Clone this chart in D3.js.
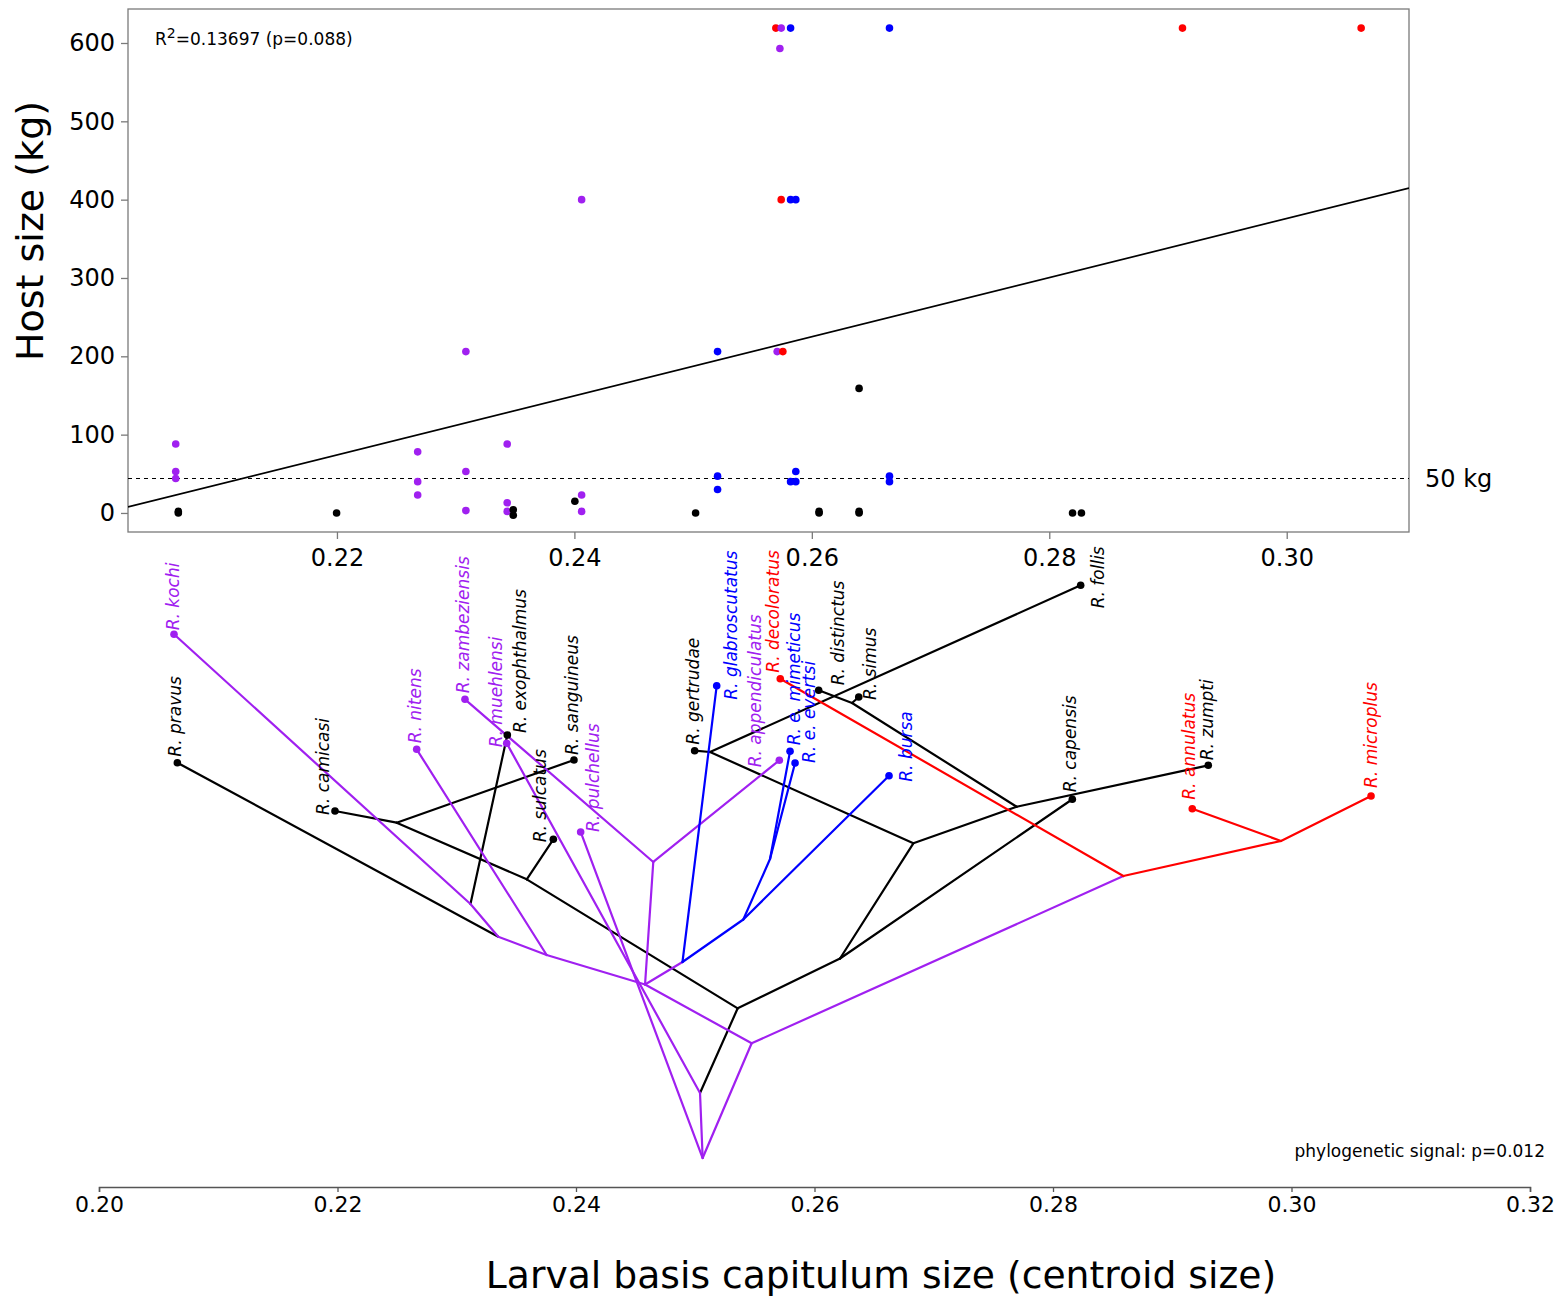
<!DOCTYPE html>
<html><head><meta charset="utf-8">
<script src="https://cdn.jsdelivr.net/npm/d3@7"></script>
<style>
body{margin:0;background:#fff}
text{font-family:"DejaVu Sans",Verdana,sans-serif}
</style>
</head><body>
<svg id="chart" width="1561" height="1296"></svg>
<script>
// ---------------- DATA ----------------
const groupColor = {black:"#000000", purple:"#A020F0", blue:"#0000FF", red:"#FF0000"};

// Top panel: larval basis capitulum size vs host size
const pointSize = [0.25697,0.25742,0.20642,0.20642,0.20642,0.22680,0.22680,0.22680,0.23086,0.23086,0.23086,0.23434,0.23434,0.23434,0.24061,0.24061,0.24061,0.25731,0.25708,0.25756,0.25742,0.29122,0.30627,
  0.25821,0.26654,0.25821,0.25865,0.25206,0.25206,0.25206,0.25865,0.25821,0.25865,0.26654,0.26654,
  0.20664,0.20664,0.21997,0.23485,0.23485,0.24004,0.25021,0.26061,0.26061,0.26398,0.26398,0.26398,0.28196,0.28271];
const hostSize = [619,619,88,53,44,78,40,23,206,53,3,88,13,2,400,23,2,593,206,206,400,619,619,
  619,619,400,400,206,47,30,53,40,40,47,40,
  2,0,0,4,-3,15,0,2,0,159,2,0,0,0];
const pointGroup = ["red","purple","purple","purple","purple","purple","purple","purple","purple","purple","purple","purple","purple","purple","purple","purple","purple","purple","purple","red","red","red","red",
  "blue","blue","blue","blue","blue","blue","blue","blue","blue","blue","blue","blue",
  "black","black","black","black","black","black","black","black","black","black","black","black","black","black"];
const yTicks = [0,100,200,300,400,500,600];
const xTicksTop = [0.22,0.24,0.26,0.28,0.30];
const xTicksBottom = [0.20,0.22,0.24,0.26,0.28,0.30,0.32];
const thresholdKg = 44;            // dashed "50 kg" line
const fitIntercept = -756, fitSlope = 3773;   // regression line
const r2Text = "=0.13697 (p=0.088)";
const signalText = "phylogenetic signal: p=0.012";

// Bottom panel: phylogeny projected on trait axis
const tipNames = ["R. kochi","R. pravus","R. camicasi","R. nitens","R. zambeziensis","R. exophthalmus","R. muehlensi","R. sanguineus","R. sulcatus","R. pulchellus","R. gertrudae","R. glabroscutatus","R. decoloratus","R. appendiculatus","R. e. mimeticus","R. e. evertsi","R. distinctus","R. simus","R. bursa","R. follis","R. capensis","R. zumpti","R. annulatus","R. microplus"];
const tipX = [0.20629,0.20657,0.21979,0.22664,0.23069,0.23424,0.23419,0.23983,0.23810,0.24039,0.24995,0.25180,0.25713,0.25705,0.25795,0.25837,0.26035,0.26371,0.26625,0.28232,0.28162,0.29302,0.29168,0.30667];
const tipH = [92.12,70.72,62.67,72.95,81.28,75.33,73.95,71.17,57.95,59.17,72.72,83.55,84.72,71.12,72.62,70.67,82.78,81.67,68.55,100.28,64.62,70.28,63.05,65.17];
const tipGroup = ["purple","black","black","purple","purple","black","purple","black","black","purple","black","blue","red","purple","blue","blue","black","black","blue","black","black","black","red","red"];
const nodeIds = ["root","P6","P5","Q1","S1","S2","Q2","G1","G3","G2","D1","P3","R1","P2","P4","B1","P1","K","B2","B3","R2"];
const nodeX = [0.25062,0.25040,0.25473,0.25356,0.23587,0.22496,0.26214,0.26829,0.25124,0.27695,0.26315,0.24579,0.28590,0.23754,0.24648,0.24893,0.23348,0.23115,0.25403,0.25627,0.29912];
const nodeH = [4.83,15.67,23.95,29.78,51.28,60.72,38.08,57.28,72.5,63.38,80.67,33.75,51.83,38.67,54.17,37.5,41.72,47.17,44.58,54.67,57.67];
const edgeFrom = ["root","root","root","P6","P6","Q1","Q1","S1","S1","S2","S2","Q2","Q2","G1","G1","G3","G3","G2","G2","D1","D1","P5","P5","P3","P3","P3","P2","P2","P1","P1","K","K","P4","P4","B1","B1","B2","B2","B3","B3","R1","R1","R2","R2"];
const edgeTo = ["R. pulchellus","P6","P5","R. muehlensi","Q1","S1","Q2","R. sulcatus","S2","R. camicasi","R. sanguineus","G1","R. capensis","G3","G2","R. gertrudae","R. follis","D1","R. zumpti","R. distinctus","R. simus","P3","R1","P2","P4","B1","P1","R. nitens","R. pravus","K","R. kochi","R. exophthalmus","R. zambeziensis","R. appendiculatus","R. glabroscutatus","B2","B3","R. bursa","R. e. mimeticus","R. e. evertsi","R. decoloratus","R2","R. annulatus","R. microplus"];
const edgeGroup = ["purple","purple","purple","purple","black","black","black","black","black","black","black","black","black","black","black","black","black","black","black","black","black","purple","purple","purple","purple","purple","purple","purple","black","purple","purple","black","purple","purple","blue","blue","blue","blue","blue","blue","red","red","red","red"];

// label placement (layout, px offsets from tip)
const labelDx = [-1.5,-2,-11.5,-2,-2,12.7,-11,-1.5,-13,12,-2,14,-7,-24,3.5,13.5,19,11,16.5,17,-2,-1,-3,0];
const labelDy = [-4,-6,4,-6,-6,-2,4,-5,3,0,-6,14,-6,7,-6,0,-5,3,6,23,-7,-5,-9,-8];

// ---------------- DRAW ----------------
const svg = d3.select("#chart");
const box = {l:128, r:1409, t:9, b:532};
const xTop = d3.scaleLinear().domain([0.2024,0.3103]).range([box.l, box.r]);
const yTop = d3.scaleLinear().domain([-24.3,643.4]).range([box.b, box.t]);

const gTop = svg.append("g");
gTop.append("defs").append("clipPath").attr("id","clipTop")
  .append("rect").attr("x",box.l).attr("y",box.t).attr("width",box.r-box.l).attr("height",box.b-box.t);

// axes
const yAxis = d3.axisLeft(yTop).tickValues(yTicks).tickSize(7).tickPadding(6).tickFormat(d3.format("d"));
const gy = gTop.append("g").attr("transform",`translate(${box.l},0)`).call(yAxis);
const xAxisTop = d3.axisBottom(xTop).tickValues(xTicksTop).tickSize(7).tickPadding(10).tickFormat(d3.format(".2f"));
const gx = gTop.append("g").attr("transform",`translate(0,${box.b})`).call(xAxisTop);
[gy,gx].forEach(g=>{
  g.select(".domain").remove();
  g.selectAll(".tick line").attr("stroke","#7a7a7a").attr("stroke-width",1.3);
  g.selectAll(".tick text").attr("font-size",24).attr("fill","#000").attr("font-family","DejaVu Sans, Verdana, sans-serif");
});

// box
gTop.append("rect").attr("x",box.l).attr("y",box.t).attr("width",box.r-box.l).attr("height",box.b-box.t)
  .attr("fill","none").attr("stroke","#7a7a7a").attr("stroke-width",1.3);

const plot = gTop.append("g").attr("clip-path","url(#clipTop)");
// threshold dashed line
plot.append("line").attr("x1",box.l).attr("x2",box.r).attr("y1",yTop(thresholdKg)).attr("y2",yTop(thresholdKg))
  .attr("stroke","#000").attr("stroke-width",1.2).attr("stroke-dasharray","4,4");
// regression line
const xd = xTop.domain();
plot.append("line").attr("x1",xTop(xd[0])).attr("y1",yTop(fitIntercept+fitSlope*xd[0]))
  .attr("x2",xTop(xd[1])).attr("y2",yTop(fitIntercept+fitSlope*xd[1]))
  .attr("stroke","#000").attr("stroke-width",1.7);
// points
plot.selectAll("circle.pt").data(d3.range(pointSize.length)).join("circle")
  .attr("class","pt").attr("cx",i=>xTop(pointSize[i])).attr("cy",i=>yTop(hostSize[i]))
  .attr("r",3.8).attr("fill",i=>groupColor[pointGroup[i]]);

// annotations
const r2 = gTop.append("text").attr("x",155).attr("y",45).attr("font-size",17);
r2.append("tspan").text("R");
r2.append("tspan").attr("dy",-7).attr("font-size",14).text("2");
r2.append("tspan").attr("dy",7).text(r2Text);
gTop.append("text").attr("x",box.r+16).attr("y",yTop(thresholdKg)+8).attr("font-size",24).text("50 kg");
svg.append("text").attr("transform","translate(43,231) rotate(-90)").attr("text-anchor","middle")
  .attr("font-size",38).text("Host size (kg)");

// ---------------- PHYLOGENY ----------------
const xBot = d3.scaleLinear().domain([0.20,0.32]).range([99,1530]);
const yTree = d3.scaleLinear().domain([0,100]).range([1187,587]);
const pos = new Map();
nodeIds.forEach((id,i)=>pos.set(id,{x:nodeX[i],h:nodeH[i]}));
tipNames.forEach((n,i)=>pos.set(n,{x:tipX[i],h:tipH[i]}));

const gTree = svg.append("g");
const order = ["black","purple","blue","red"];
const edgeIdx = d3.range(edgeFrom.length).sort((a,b)=>order.indexOf(edgeGroup[a])-order.indexOf(edgeGroup[b]));
gTree.selectAll("line.edge").data(edgeIdx).join("line").attr("class","edge")
  .attr("x1",i=>xBot(pos.get(edgeFrom[i]).x)).attr("y1",i=>yTree(pos.get(edgeFrom[i]).h))
  .attr("x2",i=>xBot(pos.get(edgeTo[i]).x)).attr("y2",i=>yTree(pos.get(edgeTo[i]).h))
  .attr("stroke",i=>groupColor[edgeGroup[i]]).attr("stroke-width",2.2).attr("stroke-linecap","round");
gTree.selectAll("circle.tip").data(d3.range(tipNames.length)).join("circle").attr("class","tip")
  .attr("cx",i=>xBot(tipX[i])).attr("cy",i=>yTree(tipH[i])).attr("r",3.8)
  .attr("fill",i=>groupColor[tipGroup[i]]);
gTree.selectAll("text.tl").data(d3.range(tipNames.length)).join("text").attr("class","tl")
  .attr("transform",i=>`translate(${xBot(tipX[i])+labelDx[i]},${yTree(tipH[i])+labelDy[i]}) rotate(-90)`)
  .attr("dominant-baseline","central").attr("font-size",17).attr("font-style","italic")
  .attr("fill",i=>groupColor[tipGroup[i]]).text(i=>tipNames[i]);

// bottom axis
const xAxisBot = d3.axisBottom(xBot).tickValues(xTicksBottom).tickSize(5).tickPadding(4).tickFormat(d3.format(".2f"));
const gb = svg.append("g").attr("transform","translate(0,1187)").call(xAxisBot);
gb.select(".domain").attr("stroke","#555").attr("stroke-width",1.5);
gb.selectAll(".tick line").attr("stroke","#555").attr("stroke-width",1.3);
gb.selectAll(".tick text").attr("font-size",22).attr("fill","#000").attr("font-family","DejaVu Sans, Verdana, sans-serif");

svg.append("text").attr("x",1545).attr("y",1157).attr("text-anchor","end").attr("font-size",17).text(signalText);
svg.append("text").attr("x",881).attr("y",1288).attr("text-anchor","middle").attr("font-size",37.7)
  .text("Larval basis capitulum size (centroid size)");
</script>
</body></html>
